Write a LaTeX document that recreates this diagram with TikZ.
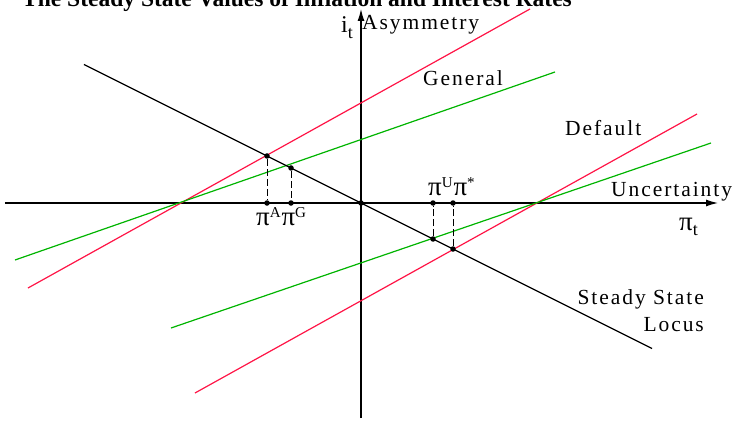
\documentclass[tikz,border=0pt]{standalone}
\usepackage{fontspec}
\setmainfont{Liberation Serif}
\newfontfamily\lblfont[LetterSpace=9]{Liberation Serif}
\usetikzlibrary{arrows.meta}
\usetikzlibrary{positioning}
\definecolor{ratered}{RGB}{255,20,70}
\definecolor{rategreen}{RGB}{0,180,0}
\newcommand{\bigpi}{{\fontsize{27}{27}\selectfont π}}

\begin{document}
\begin{tikzpicture}[x=1pt,y=1pt,
    lbl/.style={font=\lblfont\fontsize{21.5}{26}\selectfont,inner sep=0pt},
    policy/.style={line width=1.2pt},
    drop/.style={dash pattern=on 7pt off 3pt,line width=0.9pt},
    dot/.style={circle,fill,inner sep=0pt,minimum size=5.5pt}]
\useasboundingbox (-361,-217) rectangle (374,203);
\node[anchor=base west,inner sep=0pt,font=\bfseries\fontsize{23.5}{28}\selectfont] (title) at (-339,196) {The Steady State Values of Inflation and Interest Rates};
% axes
\draw[line width=1.2pt,-{Latex[length=12pt,width=7pt]}] (-356,0) -- (357,0);
\draw[line width=1.2pt,-{Latex[length=12pt,width=7pt]}] (0,-215) -- (0,194);
% rules
\draw[policy,ratered] (-333,-85) -- (169,194);
\draw[policy,rategreen] (-346,-57) -- (194,131);
\draw[policy,ratered] (-166,-190) -- (336,89);
\draw[policy,rategreen] (-190,-125) -- (350,60);
\draw[policy,black] (-277,138.5) -- (291,-145.5);
% steady states
\node[dot] (orig) at (0,0) {};
\node[dot] (asymss) at (-94,47) {};
\node[dot] (genss) at (-70,35) {};
\node[dot] (uncss) at (72,-36) {};
\node[dot] (defss) at (92,-46) {};
\node[dot] (asymx) at (-94,0) {};
\node[dot] (genx) at (-70,0) {};
\node[dot] (uncx) at (72,0) {};
\node[dot] (defx) at (92,0) {};
\draw[drop] (asymss) -- (asymx);
\draw[drop] (genss) -- (genx);
\draw[drop] (uncss) -- (uncx);
\draw[drop] (defss) -- (defx);
% labels
\node[lbl,anchor=base east] (iaxis) at (-8,170) {{\fontsize{24}{24}\selectfont i}\raisebox{-6pt}{\fontsize{18}{18}\selectfont t}};
\node[lbl,anchor=base west] (piaxis) at (318,-27) {\bigpi\raisebox{-5pt}{\fontsize{18}{18}\selectfont t}};
\node[lbl,anchor=base west] (asym) at (1,173) {Asymmetry};
\node[lbl,anchor=base west] (gen) at (62,117) {General};
\node[lbl,anchor=base west] (def) at (204,67) {Default};
\node[lbl,anchor=base west] (unc) at (250,7) {Uncertainty};
\node[lbl,anchor=base east] (steady) at (343,-101) {Steady State};
\node[lbl,anchor=base east] (locus) at ([yshift=-27pt]steady.base east) {Locus};
\node[lbl,anchor=base west] (piA) at (-105,-22) {\bigpi\textsuperscript{A}};
\node[lbl,anchor=base west] (piG) at (piA.base east) {\bigpi\textsuperscript{G}};
\node[lbl,anchor=base west] (piU) at (67,8) {\bigpi\textsuperscript{U}};
\node[lbl,anchor=base west] (piS) at (piU.base east) {\bigpi\textsuperscript{*}};
\end{tikzpicture}
\end{document}
